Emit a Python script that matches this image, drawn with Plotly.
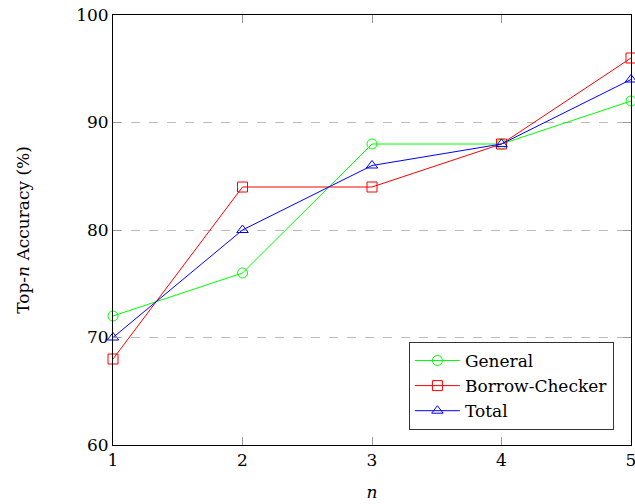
import plotly.graph_objects as go

n_values = [1, 2, 3, 4, 5]
general = [72, 76, 88, 88, 92]
borrow_checker = [68, 84, 84, 88, 96]
total = [70, 80, 86, 88, 94]
y_ticks = [60, 70, 80, 90, 100]

FONT = "DejaVu Serif"

fig = go.Figure()
series = [
    ("General", general, "#00ff00", "circle-open"),
    ("Borrow-Checker", borrow_checker, "#ff0000", "square-open"),
    ("Total", total, "#0000ff", "triangle-up-open"),
]
for name, vals, color, sym in series:
    fig.add_trace(go.Scatter(
        x=n_values, y=vals, name=name, mode="lines+markers",
        line=dict(color=color, width=1),
        marker=dict(symbol=sym, size=10, color=color, line=dict(color=color, width=1)),
        cliponaxis=False,
    ))

fig.update_layout(
    width=635, height=504,
    margin=dict(l=113, r=4, t=15, b=59, autoexpand=False),
    paper_bgcolor="white", plot_bgcolor="white",
    font=dict(family=FONT, size=17, color="black"),
    showlegend=True,
    legend=dict(
        x=0.967, y=0.035, xanchor="right", yanchor="bottom",
        bordercolor="#333333", borderwidth=1, bgcolor="white",
        font=dict(family=FONT, size=17), tracegroupgap=0,
        itemwidth=45, entrywidth=180, entrywidthmode="pixels",
    ),
)
fig.update_xaxes(
    range=[1, 5], tickvals=n_values, ticks="inside", ticklen=8, tickcolor="#999999",
    showline=True, linecolor="black", linewidth=1, mirror="ticks",
    showgrid=False, zeroline=False, ticklabeloverflow="allow", automargin=False,
    title=dict(text="<i>n</i>", standoff=16, font=dict(size=17)),
)
fig.update_yaxes(
    range=[60, 100], tickvals=y_ticks, ticks="inside", ticklen=8, tickcolor="#999999",
    showline=True, linecolor="black", linewidth=1, mirror="ticks",
    showgrid=True, gridcolor="#bbbbbb", griddash="dash", gridwidth=1,
    zeroline=False, automargin=False,
    title=dict(text="Top-<i>n</i> Accuracy (%)", standoff=42, font=dict(size=17)),
)
fig.write_html("out.html", config={"displayModeBar": False},
               post_script="document.body.style.margin='0';document.body.style.overflow='hidden';")
